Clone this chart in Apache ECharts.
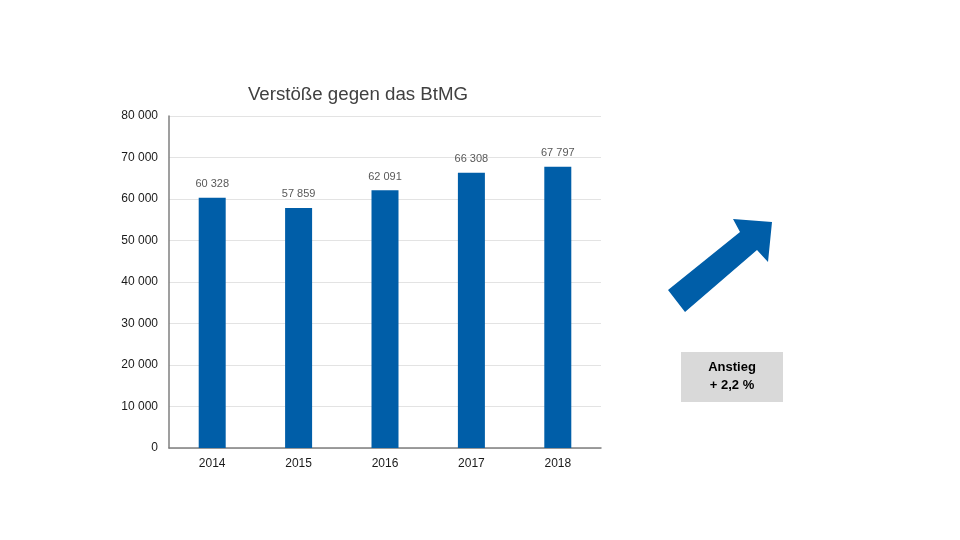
<!DOCTYPE html>
<html><head><meta charset="utf-8">
<script src="https://cdn.jsdelivr.net/npm/echarts@6/dist/echarts.min.js"></script>
<style>html,body{margin:0;padding:0;background:#fff}#c{width:960px;height:540px}</style>
</head><body><div id="c"></div>
<script>
const categories = ['2014','2015','2016','2017','2018'];
const values = [60328, 57859, 62091, 66308, 67797];
const yTicks = [0, 10000, 20000, 30000, 40000, 50000, 60000, 70000, 80000];
const titleText = 'Verstöße gegen das BtMG';
const boxLines = ['Anstieg', '+ 2,2 %'];

function fmt(v){ return String(v).replace(/\B(?=(\d{3})+(?!\d))/g, ' '); }

const chart = echarts.init(document.getElementById('c'));
chart.setOption({
  animation: false,
  backgroundColor: '#fff',
  title: {
    text: titleText, left: 353, top: 80, textAlign: 'center',
    textStyle: { fontFamily: 'Liberation Sans, Arial', fontSize: 18.7, fontWeight: 'normal', color: '#404040' }
  },
  grid: { left: 169, right: 359, top: 116, bottom: 92 },
  xAxis: {
    type: 'category', data: categories,
    axisLine: { lineStyle: { color: '#7f7f7f', width: 1.5 } },
    axisTick: { show: false },
    axisLabel: { fontFamily: 'Liberation Sans, Arial', fontSize: 12, color: '#1a1a1a', margin: 10 }
  },
  yAxis: {
    type: 'value', min: yTicks[0], max: yTicks[yTicks.length-1], interval: yTicks[1]-yTicks[0],
    axisLine: { show: true, lineStyle: { color: '#7f7f7f', width: 1.5 } },
    axisTick: { show: false },
    splitLine: { lineStyle: { color: '#e3e3e3' } },
    axisLabel: { fontFamily: 'Liberation Sans, Arial', fontSize: 12, color: '#1a1a1a', margin: 11, formatter: fmt }
  },
  series: [{
    type: 'bar', data: values, barWidth: 27,
    itemStyle: { color: '#005ea8' },
    label: { show: true, position: 'top', distance: 8, formatter: p => fmt(p.value),
      fontFamily: 'Liberation Sans, Arial', fontSize: 11, color: '#595959' }
  }],
  graphic: [
    { type: 'polygon', shape: { points: [[668,290],[740,232],[733,219],[772,222],[768,262],[757,250],[685,312]] },
      style: { fill: '#005ea8' } },
    { type: 'rect', shape: { x: 681, y: 352, width: 102, height: 50 }, style: { fill: '#d9d9d9' } },
    { type: 'text', style: { x: 732, y: 367, text: boxLines[0], textAlign: 'center', textVerticalAlign: 'middle',
      fontFamily: 'Liberation Sans, Arial', fontSize: 13, fontWeight: 'bold', fill: '#000' } },
    { type: 'text', style: { x: 732, y: 385, text: boxLines[1], textAlign: 'center', textVerticalAlign: 'middle',
      fontFamily: 'Liberation Sans, Arial', fontSize: 13, fontWeight: 'bold', fill: '#000' } }
  ]
});
</script></body></html>
